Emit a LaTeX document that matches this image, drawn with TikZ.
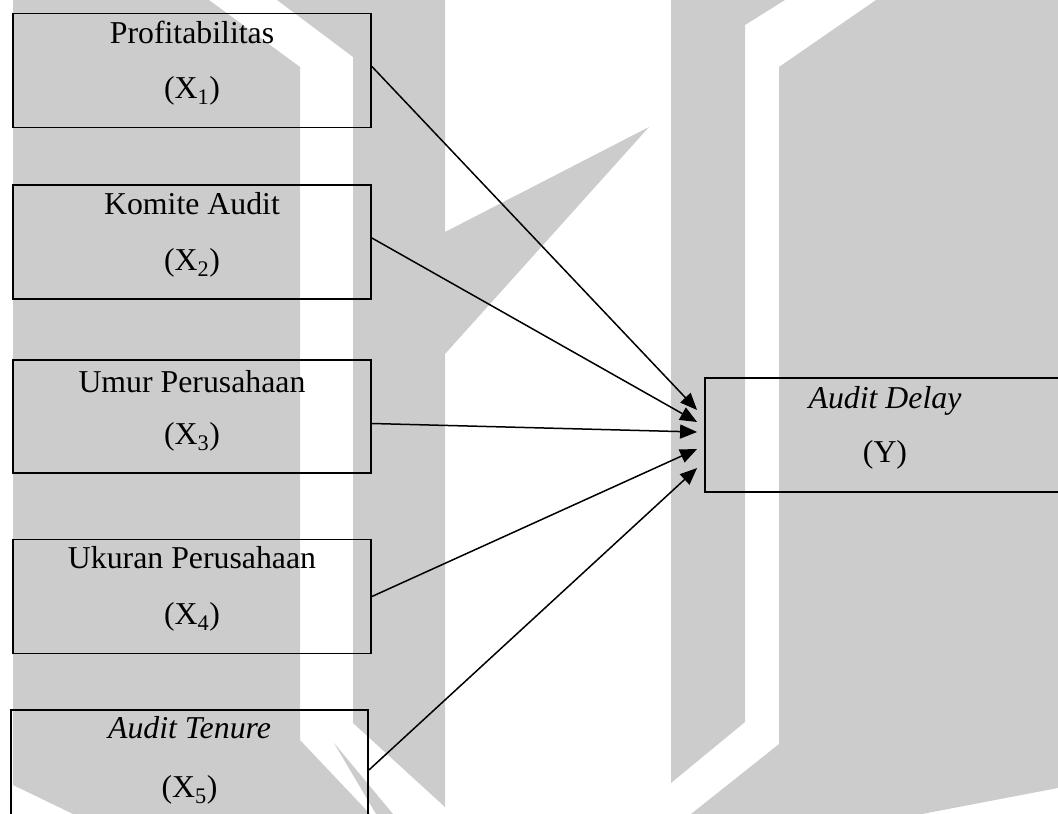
\documentclass[tikz,border=0pt]{standalone}
\usepackage{fontspec}
\setmainfont{Liberation Serif}
\usetikzlibrary{calc}
\usetikzlibrary{arrows.meta}
\definecolor{wmgray}{RGB}{204,204,204}

\begin{document}
\begin{tikzpicture}[x=1pt, y=-1pt, varbox/.style={rectangle, draw=black, line width=1.8pt, minimum width=358pt, minimum height=114pt, inner sep=0pt}, vartext/.style={anchor=base, inner sep=0pt, font=\fontsize{31.8}{38}\selectfont}, panah/.style={line width=1.5pt, -{Triangle[length=17pt,width=14pt]}}]
			\clip (0,0) rectangle (1058,814);

			%watermark di belakang
			\fill[wmgray] (13,0) -- (209,0) -- (300,67) -- (300,740) -- (370,814) -- (73,814) -- (13,785) -- cycle;
			\fill[wmgray] (334,743) -- (393,814) -- (376,814) -- cycle;
			\fill[wmgray] (277,0) -- (445,0) -- (445,232) -- (649,127) -- (445,354) -- (445,807) -- (353,723) -- (353,57) -- cycle;
			\fill[wmgray] (671,0) -- (785,0) -- (745,25) -- (745,722) -- (671,783) -- cycle;
			\fill[wmgray] (876,0) -- (1058,0) -- (1058,788) -- (922,814) -- (691,814) -- (779,744) -- (779,67) -- cycle;

			\node[varbox] (X1) at (192,70.5) {};
			\node[vartext] (t1) at ($(X1.north)+(0,31)$) {Profitabilitas};
			\node[vartext] (s1) at ($(X1.north)+(0,86)$) {(X\textsubscript{1})};

			\node[varbox] (X2) at (192,242) {};
			\node[vartext] (t2) at ($(X2.north)+(0,30)$) {Komite Audit};
			\node[vartext] (s2) at ($(X2.north)+(0,86)$) {(X\textsubscript{2})};

			\node[varbox, minimum height=113pt] (X3) at (192,416.5) {};
			\node[vartext] (t3) at ($(X3.north)+(0,33)$) {Umur Perusahaan};
			\node[vartext] (s3) at ($(X3.north)+(0,85)$) {(X\textsubscript{3})};

			\node[varbox] (X4) at (192,596.5) {};
			\node[vartext] (t4) at ($(X4.north)+(0,30)$) {Ukuran Perusahaan};
			\node[vartext] (s4) at ($(X4.north)+(0,86)$) {(X\textsubscript{4})};

			\node[varbox, minimum width=357pt] (X5) at (189.5,767) {};
			\node[vartext] (t5) at ($(X5.north)+(0,29)$) {\textit{Audit Tenure}};
			\node[vartext] (s5) at ($(X5.north)+(0,88)$) {(X\textsubscript{5})};

			\node[varbox, minimum width=360pt] (Y) at (885,435) {};
			\node[vartext] (ty) at ($(Y.north)+(0,31)$) {\textit{Audit Delay}};
			\node[vartext] (sy) at ($(Y.north)+(0,85)$) {(Y)};

			%ujung panah di depan kotak Y
			\coordinate (e1) at ($(Y.west)+(-7,-25)$);
			\coordinate (e2) at ($(Y.west)+(-7,-13)$);
			\coordinate (e3) at ($(Y.west)+(-7,-3)$);
			\coordinate (e4) at ($(Y.west)+(-7,14)$);
			\coordinate (e5) at ($(Y.west)+(-7,33)$);

			\draw[panah] ($(X1.east)+(0,-4)$) -- (e1);
			\draw[panah] ($(X2.east)+(0,-4)$) -- (e2);
			\draw[panah] ($(X3.east)+(0,7)$) -- (e3);
			\draw[panah] (X4.east) -- (e4);
			\draw[panah] ($(X5.east)+(0,3)$) -- (e5);

		\end{tikzpicture}
\end{document}
